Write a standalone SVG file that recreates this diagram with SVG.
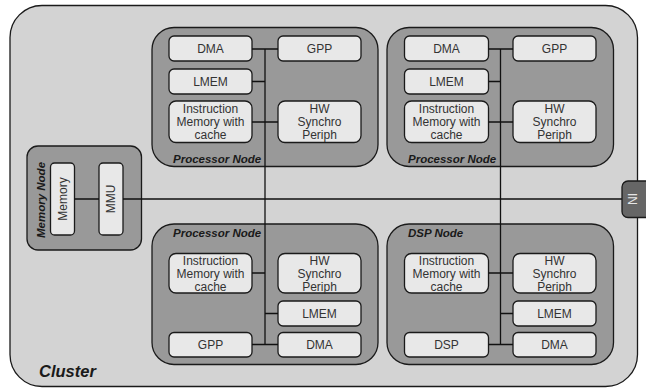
<svg xmlns="http://www.w3.org/2000/svg" width="646" height="389" viewBox="0 0 646 389">
<style>
.cluster{fill:#d3d3d3;stroke:#1a1a1a;stroke-width:1.3}
.node{fill:#999999;stroke:#1a1a1a;stroke-width:1.3}
.box{fill:#e8e8e8;stroke:#1a1a1a;stroke-width:1.3}
.ni{fill:#666666;stroke:#1a1a1a;stroke-width:1.3}
.t{font-family:"Liberation Sans",Arial,sans-serif;font-size:12px;fill:#333333;text-anchor:middle}
.lbl{font-family:"Liberation Sans",Arial,sans-serif;font-size:11.5px;font-weight:bold;font-style:italic;fill:#1a1a1a}
.cl{font-family:"Liberation Sans",Arial,sans-serif;font-size:16.5px;font-weight:bold;font-style:italic;fill:#1a1a1a}
.nit{font-family:"Liberation Sans",Arial,sans-serif;font-size:12px;fill:#e6e6e6;text-anchor:middle}
.w{fill:none;stroke:#111111;stroke-width:1.3}
</style>
<g id="cluster">
<rect class="cluster" x="10" y="5.5" width="627.5" height="381" rx="32" ry="32"/>
<text class="cl" x="39" y="377">Cluster</text>
</g>
<g id="processor-node-1">
<rect class="node" x="152" y="27.5" width="226" height="139" rx="22" ry="22"/>
<text class="lbl" x="173" y="163">Processor Node</text>
<g id="pn1-dma"><rect class="box" x="169" y="36" width="83" height="25" rx="5"/><text class="t" x="210.5" y="52.8">DMA</text></g>
<g id="pn1-gpp"><rect class="box" x="278" y="36" width="83" height="25" rx="5"/><text class="t" x="319.5" y="52.8">GPP</text></g>
<g id="pn1-lmem"><rect class="box" x="169" y="69" width="83" height="25" rx="5"/><text class="t" x="210.5" y="85.8">LMEM</text></g>
<g id="pn1-imem"><rect class="box" x="169" y="101" width="83" height="41.5" rx="7"/><text class="t" x="210.5" y="113.3">Instruction</text><text class="t" x="210.5" y="126.3">Memory with</text><text class="t" x="210.5" y="139.3">cache</text></g>
<g id="pn1-hw"><rect class="box" x="278" y="101" width="83" height="41.5" rx="7"/><text class="t" x="319.5" y="113.3">HW</text><text class="t" x="319.5" y="126.3">Synchro</text><text class="t" x="319.5" y="139.3">Periph</text></g>
</g>
<g id="processor-node-2">
<rect class="node" x="387" y="27.5" width="226.5" height="139" rx="22" ry="22"/>
<text class="lbl" x="408" y="163">Processor Node</text>
<g id="pn2-dma"><rect class="box" x="404.5" y="36" width="84" height="25" rx="5"/><text class="t" x="446.5" y="52.8">DMA</text></g>
<g id="pn2-gpp"><rect class="box" x="513" y="36" width="83" height="25" rx="5"/><text class="t" x="554.5" y="52.8">GPP</text></g>
<g id="pn2-lmem"><rect class="box" x="404.5" y="69" width="84" height="25" rx="5"/><text class="t" x="446.5" y="85.8">LMEM</text></g>
<g id="pn2-imem"><rect class="box" x="404.5" y="101" width="84" height="41.5" rx="7"/><text class="t" x="446.5" y="113.3">Instruction</text><text class="t" x="446.5" y="126.3">Memory with</text><text class="t" x="446.5" y="139.3">cache</text></g>
<g id="pn2-hw"><rect class="box" x="513" y="101" width="83" height="41.5" rx="7"/><text class="t" x="554.5" y="113.3">HW</text><text class="t" x="554.5" y="126.3">Synchro</text><text class="t" x="554.5" y="139.3">Periph</text></g>
</g>
<g id="processor-node-3">
<rect class="node" x="152" y="224" width="226" height="140.5" rx="22" ry="22"/>
<text class="lbl" x="173" y="237">Processor Node</text>
<g id="pn3-imem"><rect class="box" x="169" y="253.5" width="83" height="39.5" rx="7"/><text class="t" x="210.5" y="264.8">Instruction</text><text class="t" x="210.5" y="277.8">Memory with</text><text class="t" x="210.5" y="290.8">cache</text></g>
<g id="pn3-hw"><rect class="box" x="278" y="253.5" width="83" height="39.5" rx="7"/><text class="t" x="319.5" y="264.8">HW</text><text class="t" x="319.5" y="277.8">Synchro</text><text class="t" x="319.5" y="290.8">Periph</text></g>
<g id="pn3-lmem"><rect class="box" x="278" y="301" width="83" height="25" rx="5"/><text class="t" x="319.5" y="317.8">LMEM</text></g>
<g id="pn3-gpp"><rect class="box" x="169" y="332.5" width="83" height="24.5" rx="5"/><text class="t" x="210.5" y="349">GPP</text></g>
<g id="pn3-dma"><rect class="box" x="278" y="332.5" width="83" height="24.5" rx="5"/><text class="t" x="319.5" y="349">DMA</text></g>
</g>
<g id="dsp-node">
<rect class="node" x="387" y="224" width="226.5" height="140.5" rx="22" ry="22"/>
<text class="lbl" x="408" y="237">DSP Node</text>
<g id="dsp-imem"><rect class="box" x="404.5" y="253.5" width="84" height="39.5" rx="7"/><text class="t" x="446.5" y="264.8">Instruction</text><text class="t" x="446.5" y="277.8">Memory with</text><text class="t" x="446.5" y="290.8">cache</text></g>
<g id="dsp-hw"><rect class="box" x="513" y="253.5" width="83" height="39.5" rx="7"/><text class="t" x="554.5" y="264.8">HW</text><text class="t" x="554.5" y="277.8">Synchro</text><text class="t" x="554.5" y="290.8">Periph</text></g>
<g id="dsp-lmem"><rect class="box" x="513" y="301" width="83" height="25" rx="5"/><text class="t" x="554.5" y="317.8">LMEM</text></g>
<g id="dsp-dsp"><rect class="box" x="404.5" y="332.5" width="84" height="24.5" rx="5"/><text class="t" x="446.5" y="349">DSP</text></g>
<g id="dsp-dma"><rect class="box" x="513" y="332.5" width="83" height="24.5" rx="5"/><text class="t" x="554.5" y="349">DMA</text></g>
</g>
<g id="memory-node">
<rect class="node" x="27" y="146" width="114.5" height="104" rx="11" ry="11"/>
<text class="lbl" transform="translate(45,200) rotate(-90)" text-anchor="middle">Memory Node</text>
<g id="mem-memory"><rect class="box" x="50.5" y="163" width="24" height="72" rx="4"/><text class="t" transform="translate(66.7,199) rotate(-90)">Memory</text></g>
<g id="mem-mmu"><rect class="box" x="99" y="163" width="24" height="72" rx="4"/><text class="t" transform="translate(115.2,199) rotate(-90)">MMU</text></g>
</g>
<g id="connectors">
<path class="w" d="M265 49V344M500.5 49V344"/>
<path class="w" d="M252 49H278M252 81.5H265M252 122H278"/>
<path class="w" d="M488.5 49H513M488.5 81.5H500.5M488.5 122H513"/>
<path class="w" d="M252 273H265M265 313.5H278M252 344.5H278"/>
<path class="w" d="M488.5 273H513M500.5 313.5H513M488.5 344.5H513"/>
<path class="w" d="M74.5 199H99M123 199H622"/>
</g>
<g id="ni">
<rect class="ni" x="622" y="181" width="34" height="36.5" rx="6"/>
<text class="nit" transform="translate(637.2,199) rotate(-90)">NI</text>
</g>
</svg>
